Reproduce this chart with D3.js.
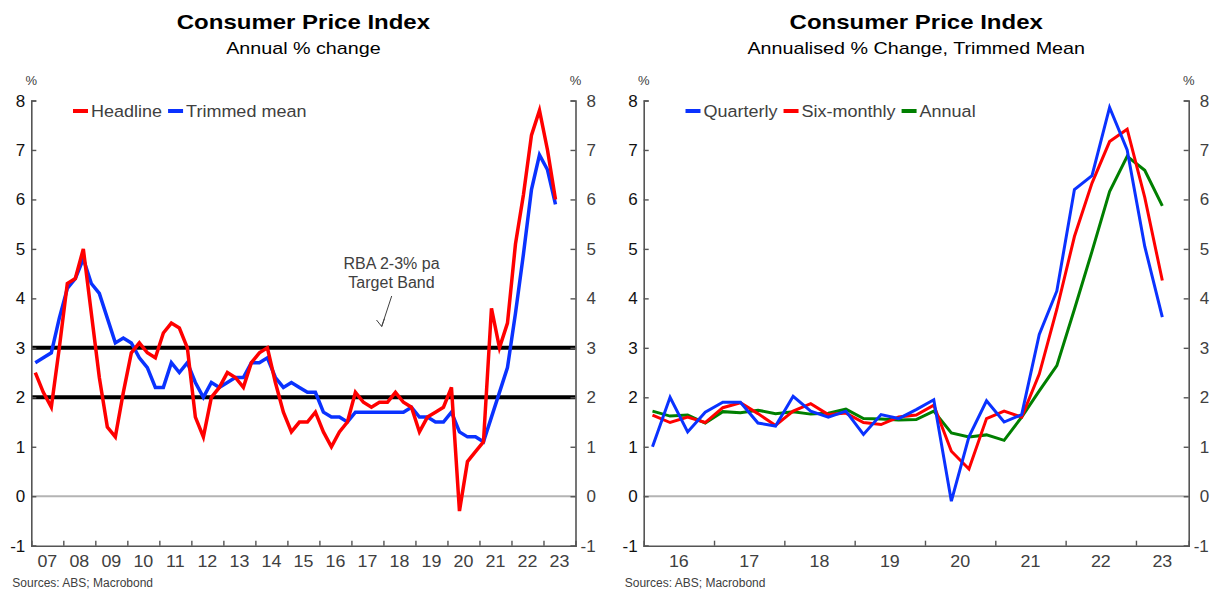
<!DOCTYPE html>
<html>
<head>
<meta charset="utf-8">
<script src="https://cdn.jsdelivr.net/npm/d3@7"></script>
<style>
  body { margin: 0; background: #fff; }
  svg { display: block; font-family: "Liberation Sans", Arial, sans-serif; }
</style>
</head>
<body>
<svg id="chart" width="1212" height="592"></svg>
<script>
// ---- data ----
const yTicks = [-1, 0, 1, 2, 3, 4, 5, 6, 7, 8];

// left panel: quarterly from 2007 Q1
const cpiStartYear = 2007;
const cpiYearLabels = ["07","08","09","10","11","12","13","14","15","16","17","18","19","20","21","22","23"];
const headline = [
  2.5, 2.1, 1.8, 3.0,  4.3, 4.4, 5.0, 3.7,  2.4, 1.4, 1.2, 2.1,
  2.9, 3.1, 2.9, 2.8,  3.3, 3.5, 3.4, 3.0,  1.6, 1.2, 2.0, 2.2,
  2.5, 2.4, 2.2, 2.7,  2.9, 3.0, 2.3, 1.7,  1.3, 1.5, 1.5, 1.7,
  1.3, 1.0, 1.3, 1.5,  2.1, 1.9, 1.8, 1.9,  1.9, 2.1, 1.9, 1.8,
  1.3, 1.6, 1.7, 1.8,  2.2, -0.3, 0.7, 0.9, 1.1, 3.8, 3.0, 3.5,
  5.1, 6.1, 7.3, 7.8,  7.0, 6.0
];
const trimmedMean = [
  2.7, 2.8, 2.9, 3.6,  4.2, 4.4, 4.8, 4.3,  4.1, 3.6, 3.1, 3.2,
  3.1, 2.8, 2.6, 2.2,  2.2, 2.7, 2.5, 2.7,  2.3, 2.0, 2.3, 2.2,
  2.3, 2.4, 2.4, 2.7,  2.7, 2.8, 2.4, 2.2,  2.3, 2.2, 2.1, 2.1,
  1.7, 1.6, 1.6, 1.5,  1.7, 1.7, 1.7, 1.7,  1.7, 1.7, 1.7, 1.8,
  1.6, 1.6, 1.5, 1.5,  1.7, 1.3, 1.2, 1.2,  1.1, 1.6, 2.1, 2.6,
  3.7, 4.9, 6.2, 6.9,  6.6, 5.9
];
const bandLevels = [2, 3];

// right panel: quarterly from 2016 Q1
const tmStartYear = 2016;
const tmYearLabels = ["16","17","18","19","20","21","22","23"];
const quarterly = [
  1.0, 2.0, 1.3, 1.7,  1.9, 1.9, 1.48, 1.42,  2.02, 1.72, 1.6, 1.72,
  1.25, 1.65, 1.57, 1.75,  1.95, -0.1, 1.2, 1.93,  1.5, 1.65, 3.27, 4.15,
  6.2, 6.48, 7.86, 7.0,  5.05, 3.62
];
const sixMonthly = [
  1.64, 1.49, 1.6, 1.49,  1.79, 1.89, 1.67, 1.43,  1.72, 1.87, 1.65, 1.68,
  1.49, 1.45, 1.6, 1.64,  1.84, 0.91, 0.55, 1.57,  1.72, 1.6, 2.47, 3.78,
  5.25, 6.33, 7.17, 7.42,  6.04, 4.36
];
const annual = [
  1.72, 1.62, 1.64, 1.48,  1.71, 1.69, 1.74, 1.67,  1.71, 1.66, 1.68, 1.76,
  1.57, 1.56, 1.54, 1.55,  1.72, 1.28, 1.2, 1.24,  1.13, 1.6, 2.13, 2.64,
  3.78, 4.95, 6.16, 6.87,  6.59, 5.87
];

// ---- drawing ----
const svg = d3.select("#chart");
const axisColor = "#555";
const textGrey = "#404040";

function addText(g, x, y, str, size, opts = {}) {
  return g.append("text")
    .attr("transform", `translate(${x},${y}) scale(${opts.sx || 1},1)`)
    .attr("text-anchor", opts.anchor || "start")
    .attr("font-size", size)
    .attr("font-weight", opts.weight || "normal")
    .attr("fill", opts.fill || textGrey)
    .text(str);
}

function drawPanel(cfg) {
  const g = svg.append("g");
  const x = d3.scaleLinear().domain(cfg.xDomain).range([cfg.left, cfg.right]);
  const y = d3.scaleLinear().domain([-1, 8]).range([545.7, 100.5]);
  const cx = (cfg.left + cfg.right) / 2;

  addText(g, cx, 29, "Consumer Price Index", 20, { anchor: "middle", weight: "bold", fill: "#000", sx: 1.2 });
  addText(g, cx, 54, cfg.subtitle, 17, { anchor: "middle", fill: "#000", sx: 1.16 });

  // zero line
  g.append("line")
    .attr("x1", cfg.left).attr("x2", cfg.right)
    .attr("y1", y(0)).attr("y2", y(0))
    .attr("stroke", "#b4b4b4").attr("stroke-width", 2);

  if (cfg.bands) {
    cfg.bands.forEach(b => {
      g.append("line")
        .attr("x1", cfg.left).attr("x2", cfg.right)
        .attr("y1", y(b)).attr("y2", y(b))
        .attr("stroke", "#000").attr("stroke-width", 4);
    });
  }

  // y axes
  const leftAxis = g.append("g").attr("transform", `translate(${cfg.left},0)`)
    .call(d3.axisRight(y).tickValues(yTicks).tickSize(5).tickFormat(""));
  const rightAxis = g.append("g").attr("transform", `translate(${cfg.right},0)`)
    .call(d3.axisLeft(y).tickValues(yTicks).tickSize(5).tickFormat(""));
  [leftAxis, rightAxis].forEach(a => {
    a.select(".domain").attr("stroke", axisColor).attr("stroke-width", 1.6);
    a.selectAll(".tick line").attr("stroke", axisColor).attr("stroke-width", 1.4);
  });
  yTicks.forEach(t => {
    addText(g, cfg.left - 6, y(t) + 6, t, 17, { anchor: "end", fill: "#111" });
    // digits line up on the right axis, the minus sign hangs to the left
    addText(g, cfg.right + 11 - (t < 0 ? 6 : 0), y(t) + 6, t, 17, { fill: textGrey });
  });
  addText(g, cfg.left, 85, "%", 13, { anchor: "middle" });
  addText(g, cfg.right, 85, "%", 13, { anchor: "middle" });

  // x axis
  const years = cfg.labels.map((l, i) => cfg.startYear + i);
  const xAxis = g.append("g").attr("transform", `translate(0,${y(-1)})`)
    .call(d3.axisTop(x).tickValues(years.slice(1)).tickSize(5).tickFormat(""));
  xAxis.select(".domain").attr("stroke", axisColor).attr("stroke-width", 1.6);
  xAxis.selectAll(".tick line").attr("stroke", axisColor).attr("stroke-width", 1.4);
  cfg.labels.forEach((l, i) => {
    const a = Math.max(years[i], cfg.xDomain[0]);
    const b = Math.min(years[i] + 1, cfg.xDomain[1]);
    addText(g, x((a + b) / 2), 567, l, 17, { anchor: "middle", sx: 1.05 });
  });

  // series
  const date = i => cfg.startYear + Math.floor(i / 4) + ((i % 4) + 0.5) / 4;
  const line = d3.line().x((d, i) => x(date(i))).y(d => y(d));
  cfg.series.forEach(s => {
    g.append("path")
      .attr("d", line(s.values))
      .attr("fill", "none")
      .attr("stroke", s.color)
      .attr("stroke-width", cfg.lineWidth)
      .attr("stroke-linejoin", "miter");
  });

  // legend
  let lx = cfg.legendX;
  const legendSx = 1.06;
  cfg.series.slice().sort((a, b) => a.legendOrder - b.legendOrder).forEach(s => {
    g.append("line")
      .attr("x1", lx).attr("x2", lx + 15)
      .attr("y1", 111).attr("y2", 111)
      .attr("stroke", s.color).attr("stroke-width", 4);
    const t = addText(g, lx + 18, 117, s.name, 17, { sx: legendSx });
    lx += 18 + t.node().getComputedTextLength() * legendSx + 6;
  });

  addText(g, cfg.left - 19, 587, "Sources: ABS; Macrobond", 12);
  return { g, x, y };
}

const leftPanel = drawPanel({
  left: 31.3, right: 575.5,
  xDomain: [2007, 2024],
  startYear: cpiStartYear,
  labels: cpiYearLabels,
  subtitle: "Annual % change",
  bands: bandLevels,
  lineWidth: 3.5,
  legendX: 73,
  series: [
    { name: "Trimmed mean", values: trimmedMean, color: "#0a32ff", legendOrder: 1 },
    { name: "Headline", values: headline, color: "#ff0000", legendOrder: 0 }
  ]
});

// annotation for the target band
addText(leftPanel.g, 391.5, 269, "RBA 2-3% pa", 16, { anchor: "middle" });
addText(leftPanel.g, 391.5, 287.5, "Target Band", 16, { anchor: "middle" });
leftPanel.g.append("path")
  .attr("d", "M391.7,296 L381.7,326.5 M376.5,320 L381.7,326.5 L384.5,318.5")
  .attr("fill", "none").attr("stroke", textGrey).attr("stroke-width", 1);

drawPanel({
  left: 643.7, right: 1188.7,
  xDomain: [2016, 2023.75],
  startYear: tmStartYear,
  labels: tmYearLabels,
  subtitle: "Annualised % Change, Trimmed Mean",
  lineWidth: 3,
  legendX: 685.5,
  series: [
    { name: "Annual", values: annual, color: "#007f00", legendOrder: 2 },
    { name: "Six-monthly", values: sixMonthly, color: "#ff0000", legendOrder: 1 },
    { name: "Quarterly", values: quarterly, color: "#0a32ff", legendOrder: 0 }
  ]
});
</script>
</body>
</html>
